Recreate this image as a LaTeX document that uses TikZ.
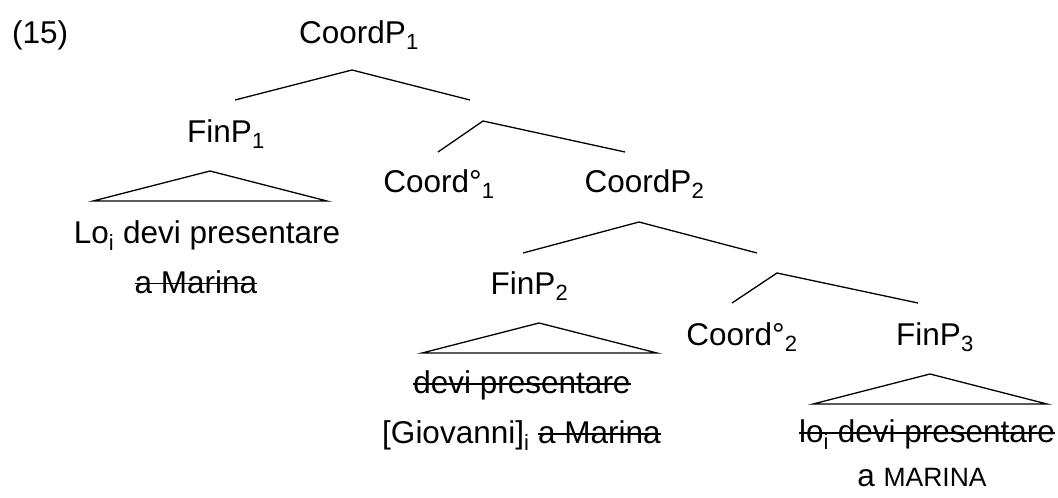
\documentclass[tikz,border=0pt]{standalone}
\usepackage{fontspec}
\setmainfont{Liberation Sans}
\newcommand\strk[1]{\setbox0=\hbox{#1}\rlap{\rule[0.27em]{\wd0}{1.6pt}}\box0}
\tikzset{
  lbl/.style={anchor=base, inner sep=0pt, font=\fontsize{31.5}{36}\selectfont},
  br/.style={line width=1.3pt, line join=miter},
}
\begin{document}
\begin{tikzpicture}[x=1pt,y=-1pt]
\useasboundingbox (0,0) rectangle (1058,498);
% labels
\node[lbl, anchor=base west] (ex) at (12,43) {(15)};
\node[lbl] (cp1) at (359,43) {CoordP\textsubscript{1}};
\node[lbl] (fp1) at (226,142) {FinP\textsubscript{1}};
\node[lbl] (c1) at (439,192) {Coord°\textsubscript{1}};
\node[lbl] (cp2) at (644.5,192) {CoordP\textsubscript{2}};
\node[lbl] (fp2) at (529.5,294) {FinP\textsubscript{2}};
\node[lbl] (c2) at (742,345) {Coord°\textsubscript{2}};
\node[lbl] (fp3) at (935,345) {FinP\textsubscript{3}};
% terminal strings
\node[lbl] (t1a) at (207,243) {Lo\textsubscript{i} devi presentare};
\node[lbl] (t1b) at (196,293) {\strk{a Marina}};
\node[lbl] (t2a) at (522,393) {\strk{devi presentare}};
\node[lbl] (t2b) at (521.5,443) {[Giovanni]\textsubscript{i} \strk{a Marina}};
\node[lbl] (t3a) at (927,442) {\strk{lo\textsubscript{i} devi presentare}};
\node[lbl] (t3b) at (922,486) {a {\fontsize{26.5}{30}\selectfont MARINA}};
% branch coordinates
\coordinate (a1) at (352,70);  \coordinate (a1l) at (235,100); \coordinate (a1r) at (470,100);
\coordinate (a2) at (483,121); \coordinate (a2l) at (438,152); \coordinate (a2r) at (625,152);
\coordinate (a3) at (639,222); \coordinate (a3l) at (523,253); \coordinate (a3r) at (757,253);
\coordinate (a4) at (777,273); \coordinate (a4l) at (732,303); \coordinate (a4r) at (918,303);
\draw[br] (a1l) -- (a1) -- (a1r);
\draw[br] (a2l) -- (a2) -- (a2r);
\draw[br] (a3l) -- (a3) -- (a3r);
\draw[br] (a4l) -- (a4) -- (a4r);
% triangles
\coordinate (r1) at (210,171); \coordinate (r1l) at (93,201); \coordinate (r1r) at (327,201);
\coordinate (r2) at (539,323); \coordinate (r2l) at (422,353); \coordinate (r2r) at (657,353);
\coordinate (r3) at (930,374); \coordinate (r3l) at (813,404); \coordinate (r3r) at (1047,404);
\draw[br] (r1) -- (r1l) -- (r1r) -- cycle;
\draw[br] (r2) -- (r2l) -- (r2r) -- cycle;
\draw[br] (r3) -- (r3l) -- (r3r) -- cycle;
\end{tikzpicture}
\end{document}
